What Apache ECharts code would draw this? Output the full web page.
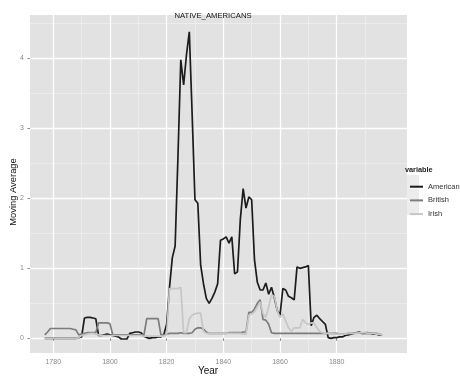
<!DOCTYPE html>
<html><head><meta charset="utf-8">
<script src="https://cdn.jsdelivr.net/npm/echarts@6/dist/echarts.min.js"></script>
<style>html,body{margin:0;padding:0;background:#fff}#c{width:460px;height:383px}</style>
</head><body><div id="c"></div>
<script>
const years = [
1777,1778,1779,1780,1781,1782,1783,1784,1785,1786,
1787,1788,1789,1790,1791,1792,1793,1794,1795,1796,
1797,1798,1799,1800,1801,1802,1803,1804,1805,1806,
1807,1808,1809,1810,1811,1812,1813,1814,1815,1816,
1817,1818,1819,1820,1821,1822,1823,1824,1825,1826,
1827,1828,1829,1830,1831,1832,1833,1834,1835,1836,
1837,1838,1839,1840,1841,1842,1843,1844,1845,1846,
1847,1848,1849,1850,1851,1852,1853,1854,1855,1856,
1857,1858,1859,1860,1861,1862,1863,1864,1865,1866,
1867,1868,1869,1870,1871,1872,1873,1874,1875,1876,
1877,1878,1879,1880,1881,1882,1883,1884,1885,1886,
1887,1888,1889,1890,1891,1892,1893,1894,1895,1896];
const american = [
0,0,0,0,0,0,0,0,0,0,
0,0,0.01,0.02,0.29,0.3,0.3,0.29,0.28,0.04,
0.04,0.05,0.06,0.05,0.04,0.03,0.02,-0.01,-0.01,-0.01,
0.07,0.08,0.09,0.09,0.08,0.03,0.01,0.0,0.01,0.01,
0.02,0.02,0.05,0.2,0.72,1.15,1.32,2.6,3.98,3.62,
4.05,4.38,3.2,1.98,1.93,1.05,0.78,0.57,0.5,0.57,
0.66,0.78,1.4,1.42,1.45,1.36,1.45,0.92,0.95,1.7,
2.14,1.86,2.02,1.98,1.12,0.8,0.69,0.69,0.79,0.63,
0.73,0.58,0.4,0.33,0.71,0.69,0.6,0.58,0.55,1.02,
1.0,1.01,1.02,1.04,0.18,0.3,0.33,0.28,0.24,0.2,
0.01,0.0,0.01,0.01,0.02,0.02,0.04,0.05,0.06,0.07,
0.08,0.09,0.07,0.07,0.07,0.07,0.06,0.06,0.05,0.05];
const british = [
0.05,0.09,0.14,0.14,0.14,0.14,0.14,0.14,0.14,0.14,
0.13,0.12,0.05,0.06,0.07,0.08,0.08,0.08,0.08,0.22,
0.22,0.22,0.22,0.21,0.05,0.05,0.05,0.05,0.05,0.05,
0.05,0.05,0.05,0.05,0.05,0.05,0.28,0.28,0.28,0.28,
0.28,0.05,0.05,0.06,0.07,0.07,0.07,0.07,0.08,0.07,
0.07,0.07,0.08,0.13,0.15,0.15,0.13,0.09,0.07,0.07,
0.07,0.07,0.07,0.07,0.07,0.08,0.08,0.08,0.08,0.08,
0.09,0.09,0.37,0.37,0.42,0.5,0.55,0.27,0.26,0.2,
0.08,0.07,0.07,0.07,0.07,0.07,0.07,0.07,0.07,0.07,
0.07,0.07,0.07,0.07,0.07,0.07,0.07,0.07,0.07,0.07,
0.07,0.07,0.07,0.07,0.06,0.06,0.06,0.07,0.07,0.07,
0.08,0.08,0.07,0.08,0.08,0.07,0.07,0.07,0.06,0.05];
const irish = [
0,0,0,0,0,0,0,0,0,0,
0,0,0.01,0.04,0.05,0.06,0.07,0.07,0.06,0.05,
0.04,0.04,0.04,0.04,0.04,0.04,0.04,0.04,0.04,0.04,
0.04,0.04,0.04,0.04,0.04,0.03,0.03,0.03,0.03,0.03,
0.03,0.03,0.03,0.05,0.71,0.71,0.71,0.71,0.73,0.08,
0.08,0.28,0.33,0.35,0.36,0.36,0.1,0.07,0.07,0.07,
0.07,0.07,0.07,0.07,0.07,0.07,0.07,0.07,0.07,0.07,
0.06,0.06,0.33,0.35,0.38,0.45,0.52,0.35,0.3,0.45,
0.62,0.6,0.4,0.3,0.35,0.25,0.15,0.1,0.15,0.15,
0.15,0.27,0.22,0.2,0.22,0.22,0.15,0.1,0.08,0.07,
0.07,0.07,0.06,0.06,0.06,0.06,0.06,0.07,0.07,0.07,
0.07,0.08,0.08,0.08,0.07,0.07,0.07,0.06,0.06,0.05];
const seriesNames = ['American','British','Irish'];
const xTicks = [1780,1800,1820,1840,1860,1880];
const xMinor = [1790,1810,1830,1850,1870,1890];
const yTicks = [0,1,2,3,4];
const yMinor = [0.5,1.5,2.5,3.5,4.5];
const colors = ['#1c1c1c','#7c7c7c','#c6c6c6'];
const FONT = 'Liberation Sans, Arial, sans-serif';

const pairs = arr => years.map((y,i)=>[y,arr[i]]);
const xRange = {min:1771.8, max:1904.8};
const yRange = {min:-0.21, max:4.62};
const plain = v => String(v);

const chart = echarts.init(document.getElementById('c'), null, {renderer:'canvas'});
const gridBox = {left:30, right:53, top:15, bottom:30};
chart.setOption({
  animation:false,
  backgroundColor:'#fff',
  title:{text:'NATIVE_AMERICANS', left:208, top:7, textAlign:'center',
    textStyle:{fontFamily:FONT, fontSize:7.7, fontWeight:'normal', color:'#111'}},
  grid:[Object.assign({show:true, backgroundColor:'#e2e2e2', borderWidth:0}, gridBox),
        Object.assign({show:false}, gridBox)],
  xAxis:[
    Object.assign({type:'value', gridIndex:1, axisLine:{show:false},
      axisTick:{show:false, customValues:xMinor}, axisLabel:{show:false, customValues:xMinor},
      splitLine:{show:true, lineStyle:{color:'#efefef', width:0.8}}}, xRange),
    Object.assign({type:'value', gridIndex:0, axisLine:{show:false},
      axisTick:{show:true, length:2.5, customValues:xTicks, lineStyle:{color:'#8a8a8a'}},
      axisLabel:{customValues:xTicks, formatter:plain, color:'#8a8a8a', fontSize:7, fontFamily:FONT, margin:6},
      splitLine:{show:true, lineStyle:{color:'#ffffff', width:1.3}}}, xRange)
  ],
  yAxis:[
    Object.assign({type:'value', gridIndex:1, axisLine:{show:false},
      axisTick:{show:false, customValues:yMinor}, axisLabel:{show:false, customValues:yMinor},
      splitLine:{show:true, lineStyle:{color:'#efefef', width:0.8}}}, yRange),
    Object.assign({type:'value', gridIndex:0, axisLine:{show:false},
      axisTick:{show:true, length:2.5, customValues:yTicks, lineStyle:{color:'#8a8a8a'}},
      axisLabel:{customValues:yTicks, formatter:plain, color:'#8a8a8a', fontSize:7, fontFamily:FONT, margin:6},
      splitLine:{show:true, lineStyle:{color:'#ffffff', width:1.3}}}, yRange)
  ],
  legend:{
    orient:'vertical', left:405, top:176.7, itemWidth:13, itemHeight:2, itemGap:3.7,
    icon:'rect', data:seriesNames,
    textStyle:{fontFamily:FONT, fontSize:7.5, color:'#333', lineHeight:10},
  },
  graphic:[
    {type:'rect', shape:{x:404, y:175, width:15, height:13}, style:{fill:'#ececec'}, z:-1},
    {type:'rect', shape:{x:404, y:188.5, width:15, height:13}, style:{fill:'#ececec'}, z:-1},
    {type:'rect', shape:{x:404, y:202, width:15, height:13}, style:{fill:'#ececec'}, z:-1},
    {type:'text', left:405, top:166, style:{text:'variable', font:'bold 7.3px '+FONT, fill:'#222'}},
    {type:'text', x:208, y:371, style:{text:'Year', font:'10px '+FONT, fill:'#111', textAlign:'center', textVerticalAlign:'middle'}},
    {type:'text', x:13.3, y:192, rotation:Math.PI/2, style:{text:'Moving Average', font:'9.4px '+FONT, fill:'#111', textAlign:'center', textVerticalAlign:'middle'}}
  ],
  series:[american, british, irish].map((arr,i)=>({
    name:seriesNames[i], type:'line', xAxisIndex:1, yAxisIndex:1,
    data:pairs(arr), showSymbol:false, symbol:'none',
    lineStyle:{color:colors[i], width:1.7}, itemStyle:{color:colors[i]}
  }))
});
</script></body></html>
